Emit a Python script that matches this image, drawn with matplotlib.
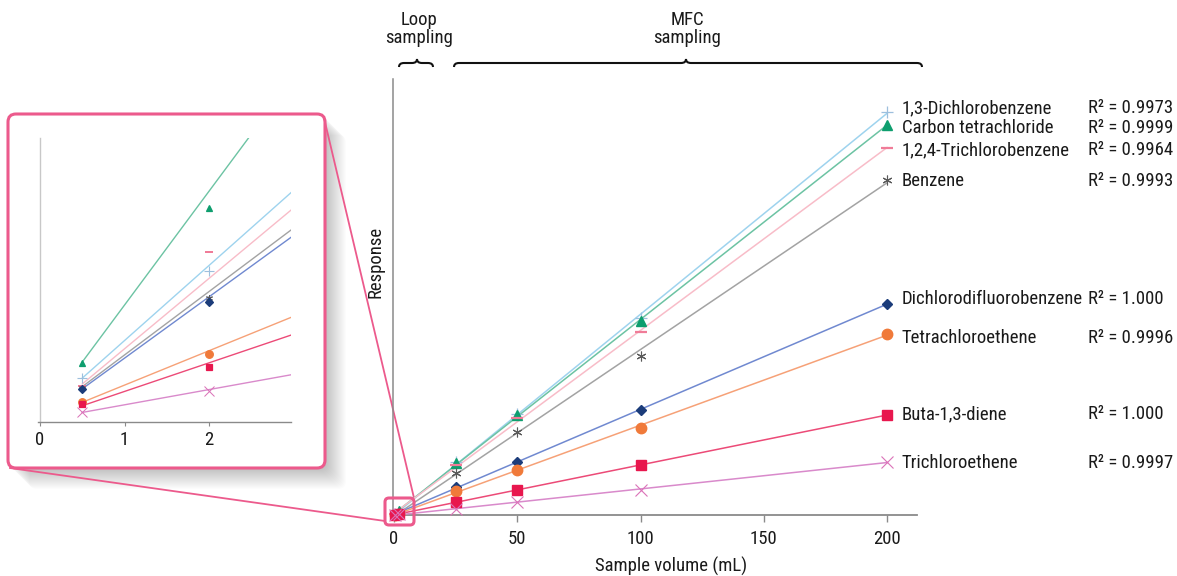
import numpy as np
import matplotlib
matplotlib.use("Agg")
import matplotlib.pyplot as plt
from matplotlib.patches import FancyBboxPatch, PathPatch
from matplotlib.path import Path
from matplotlib import font_manager

# ---------------- data ----------------
volumes = [0.5, 2, 25, 50, 100, 200]
series_names = ["1,3-Dichlorobenzene", "Carbon tetrachloride", "1,2,4-Trichlorobenzene",
                "Benzene", "Dichlorodifluorobenzene", "Tetrachloroethene",
                "Buta-1,3-diene", "Trichloroethene"]
r2_labels = ["0.9973", "0.9999", "0.9964", "0.9993", "1.000", "0.9996", "1.000", "0.9997"]

dcb = [0.79, 2.74, 53, 101, 197, 403]
ctc = [1.07, 3.89, 52, 100, 194, 390]
tcb = [0.65, 3.09, 50, 97, 183, 367]
benzene = [0.62, 2.25, 42, 83, 159, 335]
dcfb = [0.59, 2.18, 28, 53, 105, 211]
tetra = [0.36, 1.23, 24, 45, 87, 181]
buta = [0.32, 1.00, 13, 25, 50, 100]
trichloro = [0.18, 0.56, 6, 13, 25, 53]
responses = [dcb, ctc, tcb, benzene, dcfb, tetra, buta, trichloro]

# inset trend lines (slope, intercept) as drawn in the zoomed view
inset_slopes = [1.365, 2.07, 1.28, 1.153, 1.115, 0.625, 0.52, 0.277]
inset_intercepts = [0.11, 0.05, 0.045, 0.06, 0.04, 0.04, 0.03, 0.03]

x_ticks = [0, 50, 100, 150, 200]
inset_ticks = [0, 1, 2]

# ---------------- style ----------------
avail = {f.name for f in font_manager.fontManager.ttflist}
if "Liberation Sans Narrow" in avail:
    FONT = "Liberation Sans Narrow"
elif "Roboto Condensed" in avail:
    FONT = "Roboto Condensed"
elif "Roboto" in avail:
    FONT = "Roboto"
else:
    FONT = "DejaVu Sans"
plt.rcParams["font.family"] = [FONT, "DejaVu Sans"]
FS = 13.5 if FONT == "Roboto Condensed" else 11.5

marker_colors = ["#9DBFDD", "#0E9E6E", "#F07C98", "#5A5A5A", "#1B3C7A", "#F07A3A", "#E8174E", "#DB72B8"]
line_colors = ["#9ED3EE", "#6CC3A3", "#F8BCC8", "#A3A3A3", "#7089D0", "#F6A177", "#EC4A77", "#D98ACB"]
markers = ["+", "^", "_", (6, 2, 0), "D", "o", "s", "x"]
msizes = [9, 7, 9, 7, 5, 7.5, 6.5, 8.5]
mews = [0.9, 1, 1.6, 0.8, 1, 1, 1, 0.8]
inset_msizes = [7, 4.5, 6, 5, 4, 5.5, 4.5, 6.5]
label_y = [407, 387, 365, 334, 216, 177, 101, 52]

PINK = "#EC5A8C"
TXT = "#1a1a1a"
W, H = 1177, 576
fig = plt.figure(figsize=(W / 100, H / 100), dpi=100)

def fx(px):
    return px / W

def fy(py):
    return 1 - py / H

# overlay axes in pixel coordinates for decorations
ov = fig.add_axes([0, 0, 1, 1], zorder=0)
ov.set_xlim(0, W)
ov.set_ylim(H, 0)
ov.axis("off")

# shadow of inset box
for d in range(1, 22):
    sh = FancyBboxPatch((8 + d, 114 + d), 317, 354,
                        boxstyle="round,pad=0,rounding_size=8",
                        facecolor="#000000", edgecolor="none", alpha=0.012)
    ov.add_patch(sh)
inset_box = FancyBboxPatch((8, 114), 317, 354, boxstyle="round,pad=0,rounding_size=8",
                           facecolor="white", edgecolor=PINK, linewidth=2.2)
ov.add_patch(inset_box)

# connector lines
ov.plot([324, 414], [118, 498], color=PINK, lw=1.3)
ov.plot([10, 385], [468, 521], color=PINK, lw=1.3)

# braces
def brace(x0, x1, xm, y, h):
    r = 5
    verts = [(x0, y + h), (x0, y), (x0 + r, y),
             (xm - r, y), (xm, y), (xm, y - h),
             (xm, y), (xm + r, y),
             (x1 - r, y), (x1, y), (x1, y + h)]
    codes = [Path.MOVETO, Path.CURVE3, Path.CURVE3,
             Path.LINETO, Path.CURVE3, Path.CURVE3,
             Path.CURVE3, Path.CURVE3,
             Path.LINETO, Path.CURVE3, Path.CURVE3]
    ov.add_patch(PathPatch(Path(verts, codes), facecolor="none", edgecolor="#111111", lw=1.5))

brace(399, 433, 417, 63, 4)
brace(454, 922, 686, 63, 4)
ov.text(419, 29, "Loop\nsampling", ha="center", va="center", fontsize=FS, linespacing=1.0, color=TXT)
ov.text(687, 29, "MFC\nsampling", ha="center", va="center", fontsize=FS, linespacing=1.0, color=TXT)

# ---------------- main axes ----------------
L, R, B, T = 392.7, 917, 515, 79
ax = fig.add_axes([fx(L), fy(B), fx(R - L), fy(T) - fy(B)], zorder=2)
ax.patch.set_alpha(0)
x0_px = 394
scale = (887 - 394) / 200.0
ax.set_xlim((L - x0_px) / scale, (R - x0_px) / scale)
ax.set_ylim(0, B - T)

xs = np.array(volumes)
for i, resp in enumerate(responses):
    y = np.array(resp)
    k, b = np.polyfit(xs, y, 1)
    xl = np.array([0.5, 200])
    ax.plot(xl, k * xl + b, color=line_colors[i], lw=1.1, zorder=3)
    ax.plot(xs, y, linestyle="none", marker=markers[i], color=marker_colors[i],
            ms=msizes[i], mew=mews[i], zorder=4, clip_on=False)
    ax.text(206, label_y[i], series_names[i], fontsize=FS, va="center", ha="left",
            color=TXT, clip_on=False)
    ax.text(281.5, label_y[i], "R\u00b2 = " + r2_labels[i], fontsize=FS, va="center",
            ha="left", color=TXT, clip_on=False)

for s in ["top", "right"]:
    ax.spines[s].set_visible(False)
ax.spines["left"].set_color("#8a8a8a")
ax.spines["bottom"].set_color("#8a8a8a")
ax.spines["left"].set_linewidth(1.1)
ax.spines["bottom"].set_linewidth(1.3)
ax.set_xticks(x_ticks)
ax.set_xticklabels([str(t) for t in x_ticks])
ax.set_yticks([])
ax.tick_params(axis="x", direction="out", length=5, width=1, color="#8a8a8a",
               labelsize=FS, pad=6, labelcolor=TXT)
ax.set_xlabel("Sample volume (mL)", fontsize=FS, color=TXT)
ax.xaxis.set_label_coords((671 - L) / (R - L), -0.095)
ax.set_ylabel("Response", fontsize=FS, color=TXT)
ax.yaxis.set_label_coords(-0.015, (B - 262) / (B - T))

# zoom box on main plot
zb = FancyBboxPatch((385, 498), 29, 27, boxstyle="round,pad=0,rounding_size=4",
                    facecolor="none", edgecolor=PINK, linewidth=2.2, zorder=5)
ov2 = fig.add_axes([0, 0, 1, 1], zorder=3)
ov2.set_xlim(0, W)
ov2.set_ylim(H, 0)
ov2.axis("off")
ov2.add_patch(zb)

# ---------------- inset axes ----------------
iL, iR, iB, iT = 37.7, 290.7, 421.7, 138.3
ix0 = 40
iscale = (209 - 40) / 2.0
inax = fig.add_axes([fx(iL), fy(iB), fx(iR - iL), fy(iT) - fy(iB)], zorder=2)
inax.patch.set_alpha(0)
inax.set_xlim((iL - ix0) / iscale, (iR - ix0) / iscale)
inax.set_ylim(0, (iB - iT) / 55.0)
for i, resp in enumerate(responses):
    xl = np.array([0.5, 3.2])
    inax.plot(xl, inset_slopes[i] * xl + inset_intercepts[i], color=line_colors[i], lw=1.0, zorder=3)
    inax.plot(xs[:2], resp[:2], linestyle="none", marker=markers[i], color=marker_colors[i],
              ms=inset_msizes[i], mew=mews[i] * 0.9, zorder=4)
for s in ["top", "right"]:
    inax.spines[s].set_visible(False)
inax.spines["left"].set_color("#c8c8c8")
inax.spines["left"].set_linewidth(1.0)
inax.spines["bottom"].set_color("#8a8a8a")
inax.spines["bottom"].set_linewidth(1.0)
inax.spines["left"].set_position(("data", 0))
inax.set_xticks(inset_ticks)
inax.set_xticklabels([str(t) for t in inset_ticks])
inax.set_yticks([])
inax.tick_params(axis="x", direction="out", length=3, width=0.8, color="#8a8a8a",
                 labelsize=FS, pad=4, labelcolor=TXT)

fig.savefig("out.png", dpi=100)
